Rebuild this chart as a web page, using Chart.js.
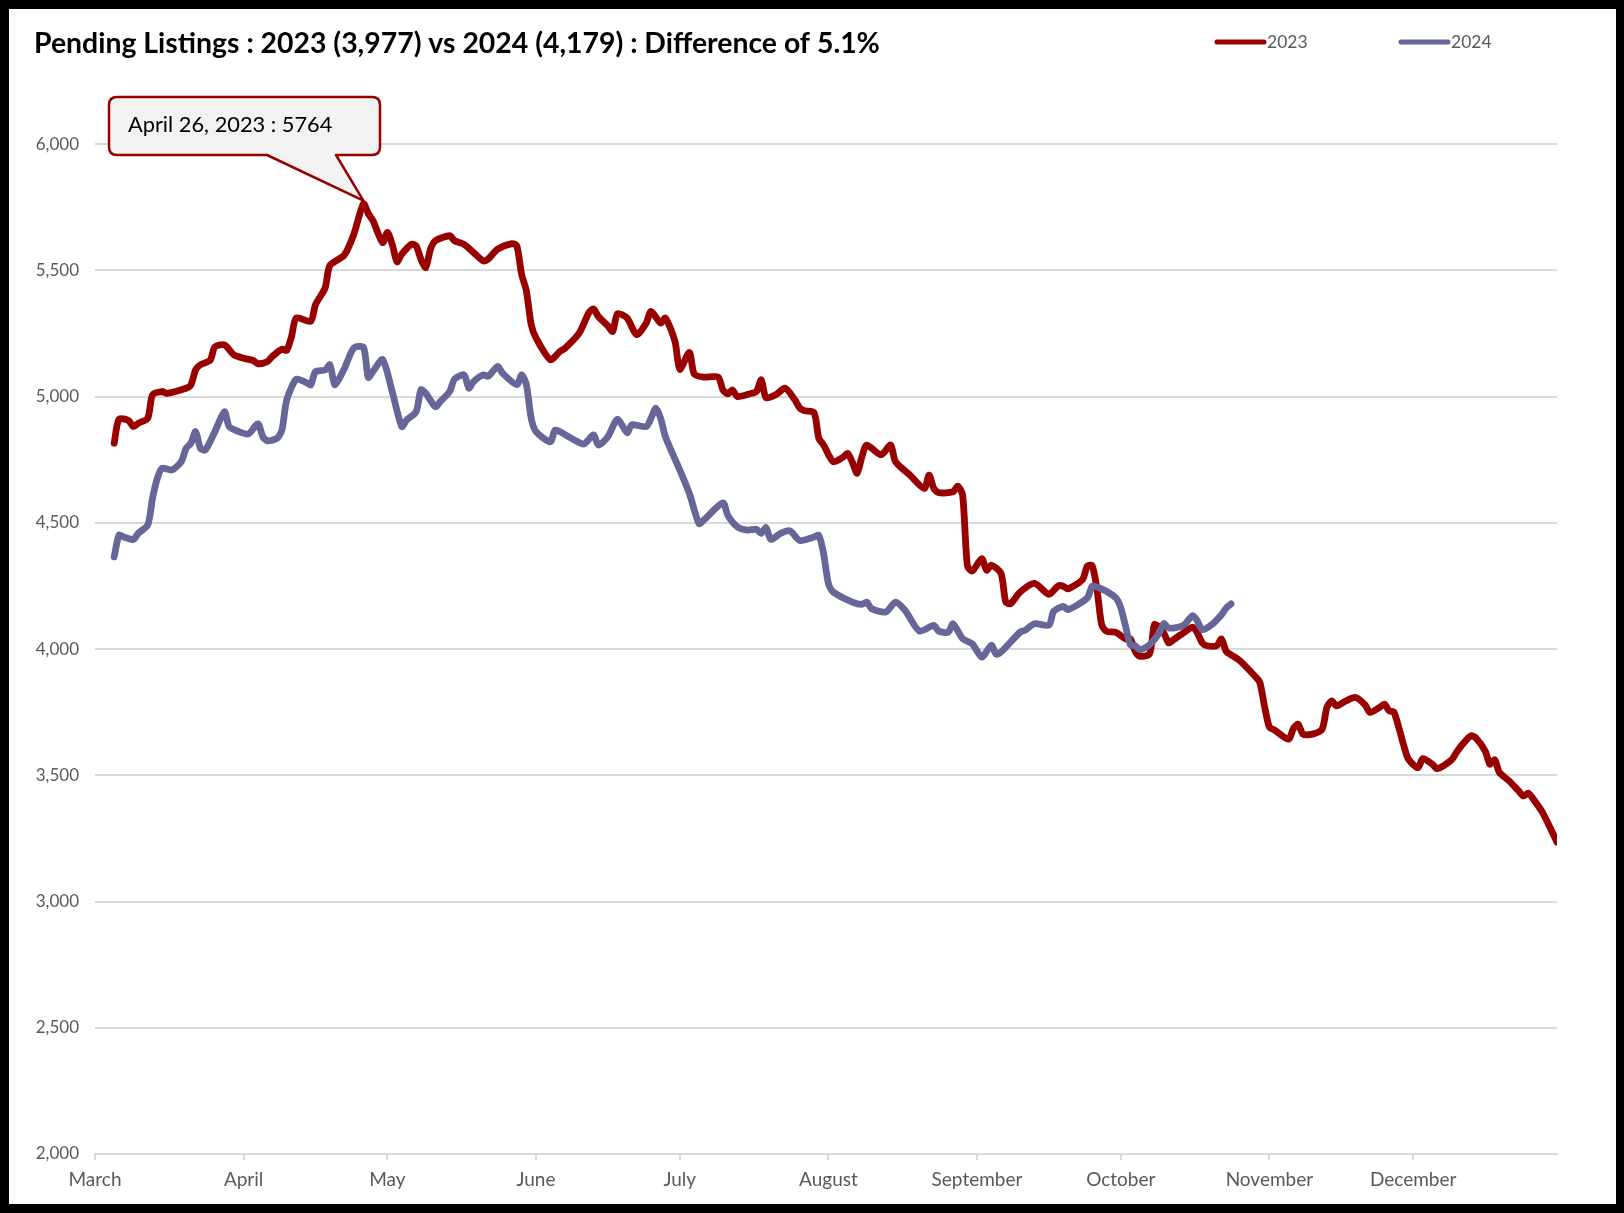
<!DOCTYPE html>
<html>
<head>
<meta charset="utf-8">
<script src="https://cdn.jsdelivr.net/npm/chart.js@4.4.1/dist/chart.umd.min.js"></script>
<style>
  html, body { margin: 0; padding: 0; background: #000; }
  #frame { position: absolute; left: 9px; top: 9px; width: 1607px; height: 1195px; background: #fff; }
  canvas { display: block; }
</style>
</head>
<body>
<div id="frame"><canvas id="chart" width="1607" height="1195"></canvas></div>
<script>
// day index = days since March 1
const monthStarts = [0, 31, 61, 92, 122, 153, 184, 214, 245, 275];
const monthNames = ['March', 'April', 'May', 'June', 'July', 'August', 'September', 'October', 'November', 'December'];
const yTicks = [2000, 2500, 3000, 3500, 4000, 4500, 5000, 5500, 6000];

const days2023 = [4, 5, 7, 8, 9, 11, 12, 14, 15, 19, 20, 21, 22, 24, 25, 27, 29, 31, 33, 34, 36, 37, 39, 40, 41, 42, 45, 46, 48, 49,
  52, 54, 56, 57, 58, 60, 61, 62, 63, 64, 66, 67, 68, 69, 70, 71, 74, 75, 77, 79, 81, 82, 84, 87, 88, 89, 90, 91, 92, 95,
  97, 98, 101, 103, 104, 105, 107, 108, 109, 111, 113, 115, 116, 118, 119, 121, 122, 124, 125, 127, 130, 131, 132, 133, 134, 137, 138, 139, 140, 142,
  144, 146, 147, 148, 150, 151, 152, 154, 156, 157, 158, 159, 160, 161, 164, 166, 167, 170, 173, 174, 175, 176, 179, 180, 181, 182, 183, 185, 186, 187,
  189, 190, 191, 193, 196, 199, 201, 202, 203, 206, 207, 208, 209, 210, 211, 213, 215, 216, 217, 218, 220, 221, 222, 223, 224, 225, 227, 229, 230, 231,
  232, 234, 235, 236, 237, 238, 239, 242, 243, 244, 245, 246, 249, 250, 251, 252, 254, 256, 257, 258, 259, 261, 263, 265, 266, 268, 269, 270, 271, 273,
  274, 276, 277, 279, 280, 283, 284, 285, 287, 288, 290, 291, 292, 293, 295, 297, 298, 299, 300, 302, 305];
const values2023 = [4815, 4910, 4905, 4881, 4894, 4914, 5007, 5020, 5013, 5033, 5046, 5106, 5126, 5143, 5196, 5205, 5165, 5152, 5143, 5130, 5139, 5159, 5188, 5183, 5238, 5311, 5298, 5364, 5430, 5519,
  5560, 5643, 5764, 5725, 5696, 5610, 5650, 5603, 5534, 5564, 5603, 5597, 5544, 5511, 5584, 5617, 5637, 5617, 5603, 5570, 5537, 5544, 5584, 5606, 5597, 5484, 5418, 5285, 5232, 5146,
  5179, 5190, 5251, 5331, 5347, 5317, 5280, 5258, 5328, 5311, 5245, 5291, 5337, 5291, 5311, 5218, 5108, 5175, 5090, 5077, 5077, 5026, 5011, 5026, 5000, 5013, 5020, 5066, 4995, 5007,
  5033, 4987, 4955, 4944, 4937, 4835, 4808, 4742, 4759, 4775, 4740, 4696, 4762, 4808, 4769, 4808, 4742, 4689, 4636, 4689, 4636, 4619, 4623, 4645, 4610, 4330, 4309, 4358, 4312, 4332,
  4300, 4186, 4180, 4226, 4260, 4217, 4251, 4249, 4238, 4275, 4328, 4331, 4242, 4097, 4070, 4066, 4040, 4040, 3991, 3971, 3981, 4097, 4087, 4063, 4024, 4037, 4063, 4087, 4063, 4024,
  4013, 4013, 4040, 3990, 3977, 3965, 3951, 3892, 3868, 3772, 3690, 3680, 3643, 3685, 3702, 3663, 3663, 3683, 3769, 3795, 3775, 3795, 3808, 3778, 3749, 3769, 3782, 3755, 3750, 3620,
  3564, 3530, 3566, 3544, 3526, 3561, 3590, 3616, 3656, 3649, 3597, 3544, 3561, 3511, 3478, 3438, 3418, 3429, 3407, 3352, 3235];

const days2024 = [4, 5, 6, 8, 9, 11, 12, 13, 14, 16, 18, 19, 20, 21, 22, 23, 25, 27, 28, 30, 32, 34, 35, 36, 38, 39, 40, 42, 44, 45,
  46, 48, 49, 50, 51, 52, 54, 56, 57, 58, 60, 62, 64, 65, 67, 68, 69, 71, 72, 74, 75, 77, 78, 79, 81, 82, 84, 85, 88, 89,
  90, 91, 92, 95, 96, 98, 100, 102, 104, 105, 107, 109, 111, 112, 115, 116, 117, 118, 119, 122, 124, 126, 127, 131, 132, 134, 136, 138, 139, 140,
  141, 143, 145, 147, 150, 151, 152, 153, 154, 158, 160, 161, 162, 165, 167, 169, 172, 175, 176, 178, 179, 181, 183, 185, 187, 188, 189, 193, 194, 196,
  199, 200, 202, 203, 207, 208, 209, 211, 213, 214, 215, 216, 217, 218, 220, 222, 223, 224, 227, 229, 230, 231, 233, 235, 236, 237];
const values2024 = [4365, 4451, 4444, 4434, 4458, 4491, 4597, 4676, 4716, 4709, 4742, 4795, 4815, 4861, 4795, 4788, 4861, 4940, 4881, 4861, 4852, 4892, 4841, 4825, 4835, 4868, 4987, 5069, 5056, 5046,
  5099, 5105, 5126, 5047, 5073, 5110, 5192, 5195, 5076, 5100, 5146, 5020, 4881, 4907, 4940, 5027, 5013, 4960, 4980, 5020, 5069, 5086, 5033, 5060, 5086, 5080, 5119, 5093, 5047, 5086,
  5047, 4914, 4861, 4821, 4867, 4850, 4828, 4812, 4848, 4808, 4841, 4910, 4857, 4888, 4881, 4914, 4954, 4914, 4841, 4709, 4616, 4497, 4511, 4579, 4530, 4484, 4471, 4474, 4458, 4481,
  4434, 4458, 4468, 4430, 4444, 4451, 4378, 4259, 4226, 4186, 4177, 4186, 4160, 4147, 4186, 4153, 4071, 4094, 4071, 4067, 4100, 4041, 4021, 3968, 4015, 3979, 3988, 4067, 4074, 4100,
  4095, 4149, 4169, 4156, 4202, 4249, 4246, 4229, 4202, 4163, 4090, 4017, 4013, 3997, 4017, 4063, 4101, 4083, 4093, 4132, 4110, 4077, 4097, 4136, 4163, 4179];

const RED = '#990000';
const BLUE = '#666699';
const GRAY_TEXT = '#595959';
const GRID = '#d9d9d9';

function points(days, values) {
  return days.map((d, i) => ({ x: d, y: values[i] }));
}

function dayLabel(day) {
  const d = new Date(2023, 2, 1 + day);
  return d.toLocaleDateString('en-US', { month: 'long', day: 'numeric', year: 'numeric' });
}

// legend drawn beside the title, as in the original
const topLegend = {
  id: 'topLegend',
  afterDraw(chart) {
    const ctx = chart.ctx;
    const starts = [1206, 1390];
    ctx.save();
    chart.data.datasets.forEach((ds, i) => {
      const x = starts[i];
      const y = 33;
      ctx.strokeStyle = ds.borderColor;
      ctx.lineWidth = 5;
      ctx.lineCap = 'round';
      ctx.beginPath();
      ctx.moveTo(x + 2, y);
      ctx.lineTo(x + 49, y);
      ctx.stroke();
      ctx.fillStyle = GRAY_TEXT;
      ctx.font = '17.5px Lato';
      ctx.textBaseline = 'middle';
      ctx.fillText(ds.label, x + 52, y);
    });
    ctx.restore();
  }
};

// callout pointing at the 2023 peak
const peakCallout = {
  id: 'peakCallout',
  afterDatasetsDraw(chart) {
    const peak = Math.max(...values2023);
    const peakDay = days2023[values2023.indexOf(peak)];
    const tx = chart.scales.x.getPixelForValue(peakDay);
    const ty = chart.scales.y.getPixelForValue(peak);
    const l = 100, t = 88, r = 371, b = 146, rad = 8;
    const w1 = 258, w2 = 327;
    const ctx = chart.ctx;
    ctx.save();
    ctx.beginPath();
    ctx.moveTo(l + rad, t);
    ctx.lineTo(r - rad, t);
    ctx.quadraticCurveTo(r, t, r, t + rad);
    ctx.lineTo(r, b - rad);
    ctx.quadraticCurveTo(r, b, r - rad, b);
    ctx.lineTo(w2, b);
    ctx.lineTo(tx, ty - 3);
    ctx.lineTo(w1, b);
    ctx.lineTo(l + rad, b);
    ctx.quadraticCurveTo(l, b, l, b - rad);
    ctx.lineTo(l, t + rad);
    ctx.quadraticCurveTo(l, t, l + rad, t);
    ctx.closePath();
    ctx.fillStyle = '#f2f2f2';
    ctx.fill();
    ctx.strokeStyle = RED;
    ctx.lineWidth = 2.5;
    ctx.lineJoin = 'round';
    ctx.stroke();
    ctx.fillStyle = '#000';
    ctx.font = '21.8px Lato';
    ctx.textBaseline = 'middle';
    ctx.fillText(dayLabel(peakDay) + ' : ' + peak, 119, 116);
    ctx.restore();
  }
};

const chart = new Chart(document.getElementById('chart').getContext('2d'), {
  type: 'line',
  data: {
    datasets: [{
      label: '2023',
      data: points(days2023, values2023),
      borderColor: RED,
      backgroundColor: RED,
      borderWidth: 6.8,
      order: 1
    }, {
      label: '2024',
      data: points(days2024, values2024),
      borderColor: BLUE,
      backgroundColor: BLUE,
      borderWidth: 6.8,
      order: 0
    }]
  },
  options: {
    responsive: false,
    devicePixelRatio: 1,
    animation: false,
    elements: {
      point: { radius: 0, hoverRadius: 0 },
      line: { tension: 0.25, borderCapStyle: 'round', borderJoinStyle: 'round' }
    },
    layout: { padding: { left: 25, right: 59, top: 0, bottom: 0 } },
    plugins: {
      legend: { display: false },
      tooltip: { enabled: false },
      title: {
        display: true,
        text: 'Pending Listings : 2023 (3,977) vs 2024 (4,179) : Difference of 5.1%',
        align: 'start',
        color: '#000',
        font: { family: 'Lato', size: 28.4, weight: 'bold' },
        padding: { top: 18, bottom: 83 }
      }
    },
    scales: {
      x: {
        type: 'linear',
        min: 0,
        max: 305,
        afterBuildTicks: scale => { scale.ticks = monthStarts.map(v => ({ value: v })); },
        afterFit: scale => { scale.height = 50; },
        ticks: {
          autoSkip: false,
          maxRotation: 0,
          color: GRAY_TEXT,
          font: { family: 'Lato', size: 19 },
          padding: 8,
          callback: v => monthNames[monthStarts.indexOf(v)]
        },
        grid: { drawOnChartArea: false, color: GRID, lineWidth: 2, tickLength: 6 },
        border: { color: GRID, width: 2 }
      },
      y: {
        min: 2000,
        max: 6000,
        afterBuildTicks: scale => { scale.ticks = yTicks.map(v => ({ value: v })); },
        afterFit: scale => { scale.width = 61; },
        ticks: {
          color: GRAY_TEXT,
          font: { family: 'Lato', size: 17 },
          padding: 16,
          callback: v => v.toLocaleString('en-US')
        },
        grid: { color: GRID, lineWidth: 2, drawTicks: false },
        border: { display: false }
      }
    }
  },
  plugins: [topLegend, peakCallout]
});
</script>
</body>
</html>
